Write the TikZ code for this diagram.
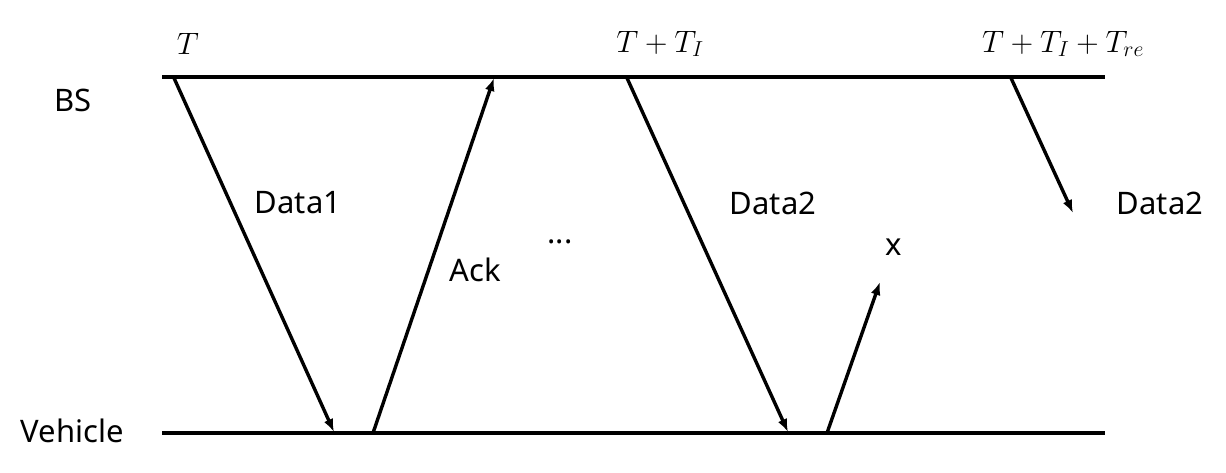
\RequirePackage{fix-cm}
\documentclass[tikz,border=0pt]{standalone}
\usepackage{amsmath, amssymb, fontspec}
\setmainfont{Noto Sans}
\usetikzlibrary{arrows.meta}

\begin{document}
\begin{tikzpicture}[x=1pt,y=-1pt,line width=3.4pt,
  lbl/.style={font=\fontsize{31}{37}\selectfont,inner sep=0pt},
  >={Latex[length=13pt,width=10pt]}]
\useasboundingbox (0,0) rectangle (1226,472);
% time lines
\coordinate (bsL)at(162,77);
\coordinate (bsR)at(1105,77);
\coordinate (vL)at(162,433);
\coordinate (vR)at(1105,433);
\draw (bsL) -- (bsR);
\draw (vL) -- (vR);
\node[lbl] (bs)at(73,100){BS};
\node[lbl] (veh)at(72,431){Vehicle};
% messages
\coordinate (d1a)at(174,78);
\coordinate (d1b)at(334,432);
\coordinate (ack1)at(373,433);
\coordinate (ack2)at(494,78);
\coordinate (d2a)at(627,78);
\coordinate (d2b)at(788,432);
\coordinate (xa)at(827,433);
\coordinate (xb)at(880,282);
\coordinate (d3a)at(1011,78);
\coordinate (d3b)at(1073,213);
\draw[->] (d1a) -- (d1b);
\draw[->] (ack1) -- (ack2);
\draw[->] (d2a) -- (d2b);
\draw[->] (xa) -- (xb);
\draw[->] (d3a) -- (d3b);
\node[lbl] (data1)at(298,203){Data1};
\node[lbl] (ack)at(475,270){Ack};
\node[lbl] (dots)at(560,242){...};
\node[lbl] (data2)at(773,203){Data2};
\node[lbl] (lost)at(894,247){x};
\node[lbl] (data3)at(1160,203){Data2};
\node[lbl] (t0)at(188,44){$T$};
\node[lbl] (t1)at(660,44){$T+T_I$};
\node[lbl] (t2)at(1063,44){$T+T_I+T_{re}$};
\end{tikzpicture}
\end{document}
